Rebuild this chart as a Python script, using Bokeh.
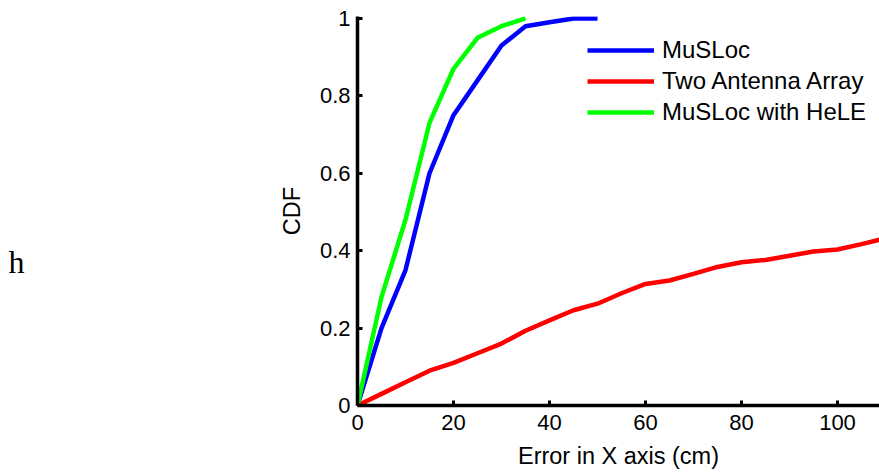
from bokeh.plotting import figure
from bokeh.models import Range1d, FixedTicker, Legend, LegendItem
from bokeh.layouts import row
from bokeh.core.properties import value
from bokeh.embed import file_html
from bokeh.resources import INLINE

# ---- data ----
x_musloc = [0, 5, 10, 15, 20, 25, 30, 35, 40, 45, 50]
y_musloc = [0, 0.20, 0.35, 0.60, 0.75, 0.84, 0.93, 0.98, 0.99, 1.0, 1.0]

x_two = [0, 5, 10, 15, 20, 25, 30, 35, 40, 45, 50, 55, 60, 65, 70, 75, 80, 85, 90, 95, 100, 105, 110]
y_two = [0, 0.03, 0.06, 0.09, 0.11, 0.135, 0.16, 0.193, 0.22, 0.246, 0.263, 0.29, 0.314,
         0.323, 0.34, 0.358, 0.37, 0.376, 0.387, 0.398, 0.403, 0.417, 0.432]

x_hele = [0, 5, 10, 15, 20, 25, 30, 35]
y_hele = [0, 0.28, 0.48, 0.73, 0.87, 0.95, 0.98, 1.0]

series_names = ["MuSLoc", "Two Antenna Array", "MuSLoc with HeLE"]
series_colors = ["#0000ff", "#ff0000", "#00ff00"]

x_ticks = [0, 20, 40, 60, 80, 100]
y_ticks = [0, 0.2, 0.4, 0.6, 0.8, 1.0]
y_tick_labels = ["0", "0.2", "0.4", "0.6", "0.8", "1"]

x_label = "Error in X axis (cm)"
y_label = "CDF"
side_text = ["h"]

FONT = "Liberation Sans"

# ---- side panel holding the stray "h" ----
ph = figure(width=270, height=475, output_backend="svg", toolbar_location=None,
            x_range=Range1d(0, 270), y_range=Range1d(0, 475),
            min_border=0)
ph.axis.visible = False
ph.grid.visible = False
ph.outline_line_color = None
ph.text(x=[8], y=[175], text=side_text, text_font=value("Liberation Serif"),
        text_font_size="32px", text_color="black", text_baseline="alphabetic")

# ---- main chart ----
p = figure(width=609, height=475, output_backend="svg", toolbar_location=None,
           x_range=Range1d(0, 108.75), y_range=Range1d(0, 1.005),
           min_border_left=87, min_border_right=0, min_border_top=16, min_border_bottom=70)
p.outline_line_color = None
p.grid.visible = False
p.background_fill_color = "white"
p.border_fill_color = "white"

r_mus = p.line(x_musloc, y_musloc, line_color=series_colors[0], line_width=4.5)
r_two = p.line(x_two, y_two, line_color=series_colors[1], line_width=4.5)
r_hele = p.line(x_hele, y_hele, line_color=series_colors[2], line_width=4.5)

for ax in (p.xaxis[0], p.yaxis[0]):
    ax.axis_line_width = 3.5
    ax.axis_line_color = "black"
    ax.major_tick_in = 5
    ax.major_tick_out = 0
    ax.major_tick_line_width = 3
    ax.minor_tick_line_color = None
    ax.major_label_text_font = FONT
    ax.major_label_text_font_size = "22px"
    ax.major_label_text_color = "black"
    ax.axis_label_text_font = FONT
    ax.axis_label_text_font_size = "23.5px"
    ax.axis_label_text_font_style = "normal"
    ax.axis_label_text_color = "black"

p.xaxis.ticker = FixedTicker(ticks=x_ticks)
p.yaxis.ticker = FixedTicker(ticks=y_ticks)
p.yaxis.major_label_overrides = {t: l for t, l in zip(y_ticks, y_tick_labels)}
p.xaxis.axis_label = x_label
p.yaxis.axis_label = y_label
p.xaxis.major_label_standoff = 9
p.yaxis.major_label_standoff = 7
p.xaxis.axis_label_standoff = 10
p.yaxis.axis_label_standoff = 12

legend = Legend(items=[LegendItem(label=n, renderers=[r]) for n, r in
                       zip(series_names, [r_mus, r_two, r_hele])],
                location=(230, 279))
legend.border_line_color = None
legend.background_fill_alpha = 0
legend.label_text_font = FONT
legend.label_text_font_size = "24px"
legend.label_text_color = "black"
legend.glyph_width = 67
legend.glyph_height = 20
legend.label_height = 20
legend.label_standoff = 8
legend.spacing = 3
legend.padding = 0
legend.margin = 0
p.add_layout(legend, "center")

layout = row(ph, p)
open("out.html", "w").write(file_html(layout, INLINE))
